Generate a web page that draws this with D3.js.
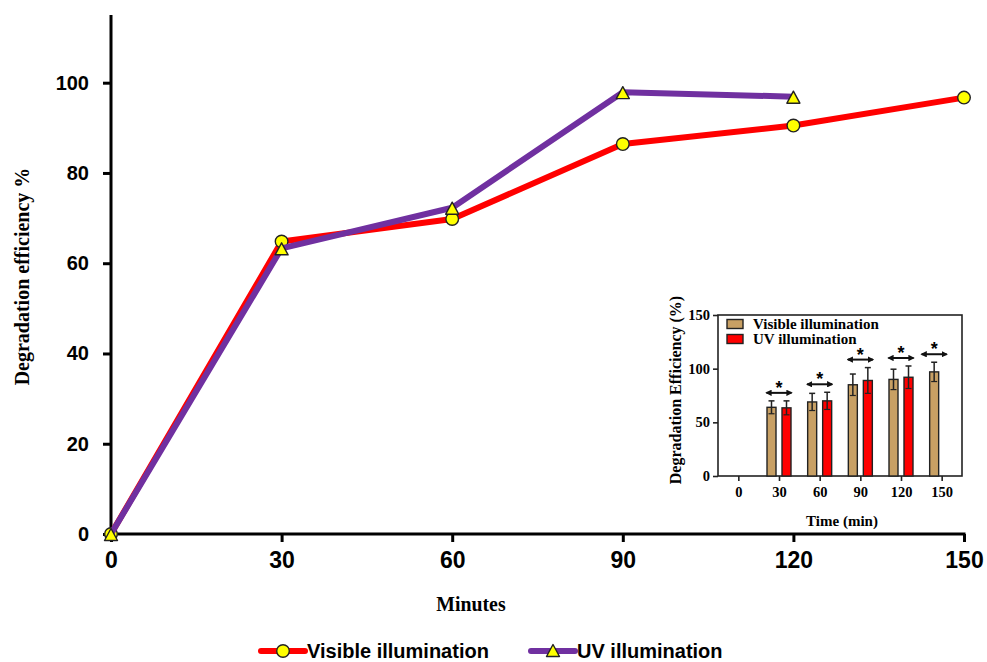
<!DOCTYPE html>
<html><head><meta charset="utf-8">
<script src="https://cdn.jsdelivr.net/npm/d3@7"></script>
<style>body{margin:0;background:#fff}</style>
</head><body>
<svg id="c" width="987" height="662"></svg>
<script>
// ---- main chart data ----
const minutes = [0, 30, 60, 90, 120, 150];
const visibleVals = [0, 64.8, 69.8, 86.4, 90.5, 96.7];
const uvMinutes = [0, 30, 60, 90, 120];
const uvVals = [0, 63.3, 72.3, 97.9, 96.9];
const yTicks = [0, 20, 40, 60, 80, 100];
const xTicks = [0, 30, 60, 90, 120, 150];
const seriesNames = ["Visible illumination", "UV illumination"];

// ---- inset data ----
const insetCats = ["0", "30", "60", "90", "120", "150"];
const insetVisible = [null, 64, 69, 85, 90, 97];
const insetVisibleErr = [null, 6, 8, 10, 9.5, 9];
const insetUV = [null, 63.5, 70, 89, 92, null];
const insetUVErr = [null, 6.5, 8, 12, 10.5, null];
const insetYTicks = [0, 50, 100, 150];

const svg = d3.select("#c");
const bold = "bold";

// ---------- main chart ----------
const x = d3.scaleLinear().domain([0, 150]).range([111, 964]);
const y = d3.scaleLinear().domain([0, 115]).range([534, 15]);

const yAxis = d3.axisLeft(y).tickValues(yTicks).tickSize(8).tickPadding(14);
const gy = svg.append("g").attr("transform", `translate(${x(0)},0)`).call(yAxis);
gy.select(".domain").attr("stroke", "#000").attr("stroke-width", 3).attr("d", `M0,${y(0)+1.5}V${y(115)}`);
gy.selectAll(".tick line").attr("stroke", "#000").attr("stroke-width", 3);
gy.selectAll(".tick text").attr("font-family", "Liberation Sans, Arial, sans-serif")
  .attr("font-weight", bold).attr("font-size", 20).attr("fill", "#000");

const xAxis = d3.axisBottom(x).tickValues(xTicks).tickSize(8).tickPadding(10);
const gx = svg.append("g").attr("transform", `translate(0,${y(0)})`).call(xAxis);
gx.select(".domain").attr("stroke", "#000").attr("stroke-width", 3).attr("d", `M${x(0)},0H${x(150)+1.5}`);
gx.selectAll(".tick line").attr("stroke", "#000").attr("stroke-width", 3);
gx.selectAll(".tick text").attr("font-family", "Liberation Sans Narrow, Arial Narrow, sans-serif")
  .attr("font-weight", bold).attr("font-size", 23).attr("fill", "#000");

svg.append("text").attr("transform", `translate(29,${(y(0)+y(115))/2+2}) rotate(-90)`)
  .attr("text-anchor", "middle").attr("font-family", "Liberation Serif, Times New Roman, serif")
  .attr("font-weight", bold).attr("font-size", 20).text("Degradation efficiency %");
svg.append("text").attr("x", 471).attr("y", 611).attr("text-anchor", "middle")
  .attr("font-family", "Liberation Serif, Times New Roman, serif").attr("font-weight", bold)
  .attr("font-size", 22).attr("transform", "translate(471,0) scale(0.9,1) translate(-471,0)").text("Minutes");

const visData = minutes.map((m, i) => [m, visibleVals[i]]);
const uvData = uvMinutes.map((m, i) => [m, uvVals[i]]);
const line = d3.line().x(d => x(d[0])).y(d => y(d[1]));

const red = "#ff0000", purple = "#7030a0", yellow = "#ffff00";
const triPath = "M0,-5.5L6.5,6.5L-6.5,6.5Z";

svg.append("path").datum(visData).attr("d", line).attr("fill", "none")
  .attr("stroke", red).attr("stroke-width", 6).attr("stroke-linejoin", "round");
svg.selectAll(".vm").data(visData).join("circle").attr("class", "vm")
  .attr("cx", d => x(d[0])).attr("cy", d => y(d[1])).attr("r", 6.3)
  .attr("fill", yellow).attr("stroke", "#222").attr("stroke-width", 1.4);

svg.append("path").datum(uvData).attr("d", line).attr("fill", "none")
  .attr("stroke", purple).attr("stroke-width", 6).attr("stroke-linejoin", "round");
svg.selectAll(".um").data(uvData).join("path").attr("class", "um")
  .attr("d", triPath).attr("transform", d => `translate(${x(d[0])},${y(d[1])})`)
  .attr("fill", yellow).attr("stroke", "#222").attr("stroke-width", 1.4).attr("stroke-linejoin", "round");

// legend
const lg = svg.append("g").attr("font-family", "Liberation Sans, Arial, sans-serif")
  .attr("font-weight", bold).attr("font-size", 20);
[[261, red, "circle", seriesNames[0]], [531, purple, "tri", seriesNames[1]]].forEach(([lx, col, mk, name]) => {
  lg.append("line").attr("x1", lx).attr("x2", lx + 44).attr("y1", 651).attr("y2", 651)
    .attr("stroke", col).attr("stroke-width", 6).attr("stroke-linecap", "round");
  if (mk === "circle") {
    lg.append("circle").attr("cx", lx + 22).attr("cy", 651).attr("r", 6.3)
      .attr("fill", yellow).attr("stroke", "#222").attr("stroke-width", 1.4);
  } else {
    lg.append("path").attr("d", triPath).attr("transform", `translate(${lx + 22},${650})`)
      .attr("fill", yellow).attr("stroke", "#222").attr("stroke-width", 1.4).attr("stroke-linejoin", "round");
  }
  lg.append("text").attr("x", lx + 46).attr("y", 658).text(name);
});

// ---------- inset ----------
const ix = d3.scalePoint().domain(insetCats).range([718, 962]).padding(0.5);
const iy = d3.scaleLinear().domain([0, 150]).range([476, 315]);
const serif = "Liberation Serif, Times New Roman, serif";
const ins = svg.append("g");

ins.append("rect").attr("x", 718).attr("y", iy(150)).attr("width", 962 - 718).attr("height", iy(0) - iy(150))
  .attr("fill", "none").attr("stroke", "#222").attr("stroke-width", 1.6);

const iyAxis = d3.axisLeft(iy).tickValues(insetYTicks).tickSize(5).tickPadding(3);
const giy = ins.append("g").attr("transform", "translate(718,0)").call(iyAxis);
giy.select(".domain").remove();
giy.selectAll(".tick line").attr("stroke", "#222").attr("stroke-width", 1.6);
giy.selectAll(".tick text").attr("font-family", serif).attr("font-weight", bold).attr("font-size", 14.5).attr("fill", "#000");

const ixAxis = d3.axisBottom(ix).tickSize(5).tickPadding(6);
const gix = ins.append("g").attr("transform", `translate(0,${iy(0)})`).call(ixAxis);
gix.select(".domain").remove();
gix.selectAll(".tick line").attr("stroke", "#222").attr("stroke-width", 1.6);
gix.selectAll(".tick text").attr("font-family", serif).attr("font-weight", bold).attr("font-size", 14.5).attr("fill", "#000");

ins.append("text").attr("transform", `translate(681,390) rotate(-90)`)
  .attr("text-anchor", "middle").attr("font-family", serif).attr("font-weight", bold).attr("font-size", 16)
  .text("Degradation Efficiency (%)");
ins.append("text").attr("x", 842).attr("y", 526).attr("text-anchor", "middle")
  .attr("font-family", serif).attr("font-weight", bold).attr("font-size", 15).text("Time (min)");

const tan = "#c8a064";
const bw = 9, off = 7.5;
const barsets = [
  { vals: insetVisible, errs: insetVisibleErr, color: tan, dx: -off },
  { vals: insetUV, errs: insetUVErr, color: red, dx: off }
];
barsets.forEach(bs => {
  insetCats.forEach((c, i) => {
    const v = bs.vals[i];
    if (v == null) return;
    const cx = ix(c) + bs.dx;
    ins.append("rect").attr("x", cx - bw / 2).attr("y", iy(v)).attr("width", bw).attr("height", iy(0) - iy(v))
      .attr("fill", bs.color).attr("stroke", "#222").attr("stroke-width", 1.4);
    const e = bs.errs[i];
    ins.append("line").attr("x1", cx).attr("x2", cx).attr("y1", iy(v + e)).attr("y2", iy(v - e))
      .attr("stroke", "#222").attr("stroke-width", 1.5);
    ins.append("line").attr("x1", cx - 3).attr("x2", cx + 3).attr("y1", iy(v + e)).attr("y2", iy(v + e))
      .attr("stroke", "#222").attr("stroke-width", 1.5);
    ins.append("line").attr("x1", cx - 3).attr("x2", cx + 3).attr("y1", iy(v - e)).attr("y2", iy(v - e))
      .attr("stroke", "#222").attr("stroke-width", 1.2);
  });
});

// significance arrows
const defs = svg.append("defs");
defs.append("marker").attr("id", "ah").attr("viewBox", "0 0 10 10").attr("refX", 8).attr("refY", 5)
  .attr("markerWidth", 3.2).attr("markerHeight", 3.2).attr("orient", "auto-start-reverse")
  .append("path").attr("d", "M0,0L10,5L0,10z").attr("fill", "#111");
insetCats.forEach((c, i) => {
  const v1 = insetVisible[i];
  if (v1 == null) return;
  const top1 = v1 + insetVisibleErr[i];
  const hasUV = insetUV[i] != null;
  const top2 = hasUV ? insetUV[i] + insetUVErr[i] : top1;
  const ay = iy(Math.max(top1, top2)) - 8;
  const cx = hasUV ? ix(c) : ix(c) - off;
  ins.append("line").attr("x1", cx - 12.5).attr("x2", cx + 12.5).attr("y1", ay).attr("y2", ay)
    .attr("stroke", "#111").attr("stroke-width", 2)
    .attr("marker-start", "url(#ah)").attr("marker-end", "url(#ah)");
  ins.append("text").attr("x", cx).attr("y", ay + 1).attr("text-anchor", "middle")
    .attr("font-family", "Liberation Sans, Arial, sans-serif").attr("font-weight", bold).attr("font-size", 18).text("*");
});

// inset legend
const il = ins.append("g").attr("font-family", serif).attr("font-weight", bold).attr("font-size", 15);
[[tan, seriesNames[0], 319.5], [red, seriesNames[1], 334.5]].forEach(([col, name, yy]) => {
  il.append("rect").attr("x", 727).attr("y", yy).attr("width", 16).attr("height", 9)
    .attr("fill", col).attr("stroke", "#222").attr("stroke-width", 1.4);
  il.append("text").attr("x", 753).attr("y", yy + 9.5).text(name);
});
</script>
</body></html>
